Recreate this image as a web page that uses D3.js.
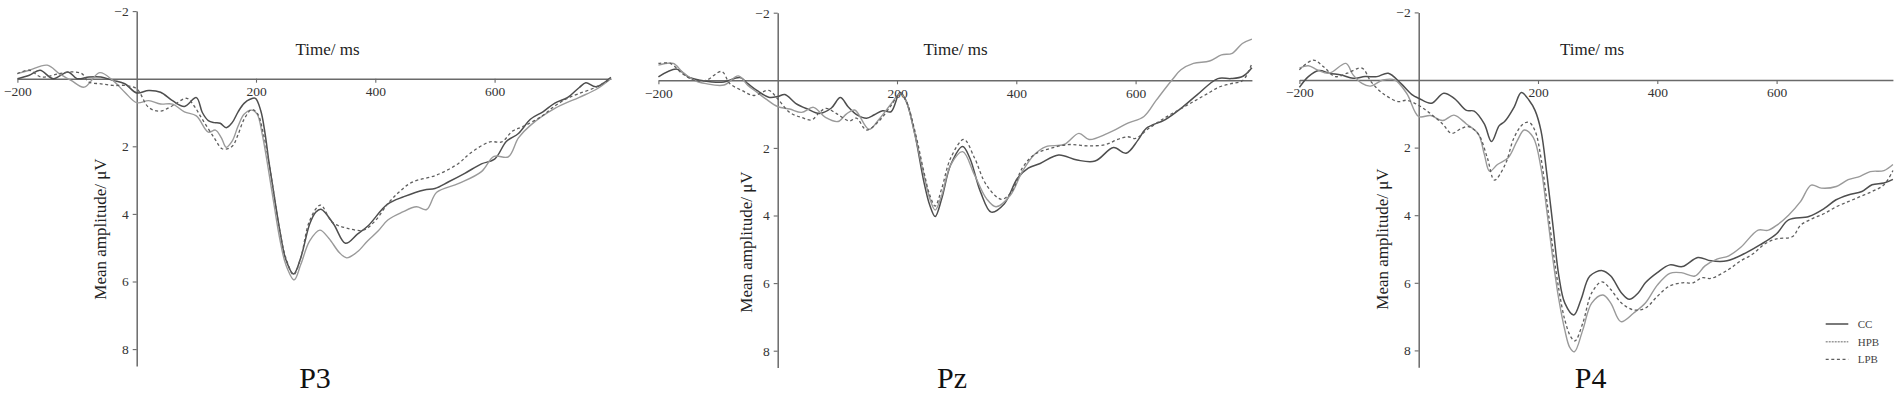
<!DOCTYPE html>
<html><head><meta charset="utf-8">
<script src="https://cdn.jsdelivr.net/npm/d3@7"></script>
<style>
html,body{margin:0;padding:0;background:#fff;}
svg{display:block;}
text{font-family:"Liberation Serif","Times New Roman",serif;}
</style></head>
<body><svg id="chart" width="1902" height="395"></svg>
<script>
// ---------- data (time in ms, amplitude in µV) ----------
const panelNames = ["P3", "Pz", "P4"];
const seriesNames = ["CC", "HPB", "LPB"];
const xTicks = [-200, 200, 400, 600];
const yTicks = [-2, 2, 4, 6, 8];
const xTitle = "Time/ ms";
const yTitle = "Mean amplitude/ μV";

const p3CC = [[-200,0],[-180,-0.1],[-162,-0.25],[-140,0],[-115,-0.2],[-100,0],[-80,-0.05],[-60,-0.05],[-40,0.05],[-20,0.15],[0,0.42],[20,0.35],[40,0.4],[60,0.65],[80,0.82],[100,0.56],[110,1.0],[120,1.24],[130,1.3],[140,1.32],[150,1.45],[160,1.3],[170,0.98],[180,0.73],[190,0.61],[199,0.58],[208,0.95],[215,1.6],[222,2.5],[230,3.4],[240,4.5],[250,5.35],[263,5.78],[275,5.3],[290,4.3],[300,3.95],[309,3.86],[330,4.3],[350,4.87],[370,4.6],[388,4.35],[420,3.72],[448,3.49],[482,3.29],[500,3.25],[523,3.05],[550,2.8],[578,2.52],[600,2.38],[620,1.85],[640,1.62],[660,1.2],[681,0.98],[701,0.72],[722,0.56],[742,0.26],[753,0.12],[770,0.24],[795,-0.04]];
const p3HPB = [[-200,-0.15],[-180,-0.25],[-150,-0.4],[-130,-0.15],[-110,0.05],[-88,0.25],[-62,-0.18],[-40,0.05],[-20,0.4],[0,0.71],[20,0.65],[40,0.75],[60,0.75],[80,0.98],[100,1.1],[120,1.58],[132,1.52],[142,1.75],[150,2.03],[160,1.85],[170,1.4],[180,1.05],[193,0.93],[202,1.05],[210,1.6],[220,2.6],[230,3.7],[240,4.75],[250,5.5],[264,5.95],[275,5.5],[290,4.8],[307,4.48],[322,4.72],[340,5.15],[352,5.3],[370,5.12],[387,4.8],[405,4.5],[421,4.18],[445,3.95],[469,3.79],[486,3.87],[503,3.36],[540,3.1],[578,2.75],[599,2.3],[623,2.31],[640,1.75],[660,1.38],[701,0.88],[742,0.55],[770,0.32],[795,0.0]];
const p3LPB = [[-200,-0.15],[-180,-0.25],[-160,-0.05],[-130,-0.15],[-110,-0.2],[-92,-0.15],[-80,0.1],[-60,0.15],[-40,0.2],[-20,0.2],[0,0.3],[20,0.85],[39,0.96],[60,0.8],[84,0.58],[96,0.8],[110,1.2],[130,1.75],[144,2.08],[160,2.0],[170,1.65],[180,1.2],[193,0.91],[203,1.05],[212,1.6],[221,2.4],[230,3.4],[240,4.5],[250,5.3],[263,5.8],[275,5.3],[290,4.2],[308,3.74],[328,4.25],[352,4.42],[380,4.48],[400,4.2],[420,3.72],[440,3.35],[462,3.06],[503,2.85],[540,2.5],[558,2.22],[592,1.87],[612,1.87],[630,1.55],[647,1.42],[680,1.1],[700,0.82],[720,0.6],[740,0.45],[770,0.25],[795,0.0]];

const pzCC = [[-200,-0.1],[-169,-0.33],[-150,-0.1],[-130,0.0],[-110,0.05],[-90,0.05],[-63,-0.08],[-50,0.1],[-35,0.3],[-15,0.5],[0,0.48],[12,0.42],[30,0.68],[50,0.85],[70,0.98],[90,0.82],[105,0.51],[118,0.78],[133,1.02],[149,1.12],[162,1.02],[176,0.9],[190,0.93],[205,0.36],[215,0.6],[230,1.6],[245,3.0],[255,3.7],[264,4.03],[275,3.5],[290,2.5],[310,1.96],[322,2.3],[340,3.3],[358,3.9],[380,3.65],[402,2.9],[420,2.6],[440,2.46],[471,2.21],[502,2.36],[532,2.39],[563,1.99],[584,2.16],[604,1.77],[618,1.42],[649,1.17],[676,0.83],[703,0.43],[738,-0.05],[760,-0.05],[780,-0.12],[795,-0.37]];
const pzHPB = [[-200,-0.45],[-175,-0.5],[-160,-0.25],[-140,0.0],[-120,0.1],[-90,0.14],[-66,-0.13],[-50,0.15],[-35,0.35],[-20,0.55],[0,0.78],[20,0.85],[40,0.95],[60,0.8],[80,1.1],[101,1.22],[115,1.0],[129,0.88],[153,1.45],[170,1.15],[190,0.7],[205,0.4],[215,0.6],[230,1.6],[245,2.8],[255,3.5],[264,3.84],[275,3.4],[290,2.5],[310,2.11],[330,2.8],[350,3.5],[366,3.74],[390,3.4],[410,2.7],[430,2.2],[450,1.96],[480,1.9],[505,1.57],[522,1.75],[553,1.57],[587,1.27],[614,1.07],[635,0.58],[662,-0.03],[676,-0.31],[697,-0.5],[724,-0.57],[744,-0.75],[762,-0.8],[779,-1.09],[795,-1.22]];
const pzLPB = [[-200,-0.5],[-180,-0.5],[-160,-0.2],[-140,0.0],[-120,0.0],[-94,-0.26],[-80,0.1],[-60,0.3],[-40,0.45],[-15,0.3],[0,0.55],[20,0.95],[40,1.1],[57,1.17],[70,0.95],[81,0.83],[100,1.0],[120,1.2],[132,1.12],[149,1.47],[170,1.2],[190,0.75],[205,0.4],[215,0.6],[230,1.5],[245,2.7],[255,3.4],[264,3.72],[275,3.2],[290,2.3],[312,1.75],[330,2.3],[350,3.1],[375,3.52],[392,3.3],[410,2.6],[430,2.2],[460,2.0],[490,1.9],[519,1.94],[550,1.9],[570,1.75],[587,1.67],[600,1.72],[620,1.45],[650,1.1],[680,0.8],[700,0.6],[720,0.4],[740,0.2],[760,0.1],[780,0.0],[795,-0.5]];

const p4CC = [[-200,0.22],[-185,-0.1],[-167,-0.28],[-150,-0.2],[-130,-0.15],[-110,-0.05],[-90,-0.1],[-70,-0.1],[-51,-0.2],[-30,0.1],[-10,0.45],[0,0.54],[21,0.69],[42,0.39],[60,0.55],[80,0.9],[93,0.92],[110,1.3],[122,1.82],[135,1.35],[144,1.23],[160,0.8],[172,0.37],[185,0.6],[195,0.9],[205,1.5],[215,2.8],[225,4.3],[235,5.8],[245,6.6],[260,6.95],[272,6.5],[287,5.8],[308,5.64],[322,5.8],[340,6.3],[353,6.49],[368,6.3],[380,6.0],[400,5.7],[421,5.47],[442,5.52],[468,5.25],[490,5.35],[517,5.35],[550,5.1],[572,4.88],[600,4.55],[620,4.14],[654,4.04],[680,3.8],[699,3.55],[720,3.4],[743,3.3],[760,3.1],[780,3.05],[795,2.94]];
const p4HPB = [[-200,-0.35],[-185,-0.42],[-170,-0.3],[-150,-0.2],[-122,-0.49],[-110,-0.15],[-95,0.1],[-81,0.18],[-60,0.0],[-40,0.0],[-20,0.4],[0,1.08],[20,1.05],[40,1.2],[59,1.04],[80,1.3],[100,1.6],[110,2.2],[119,2.7],[132,2.5],[150,2.3],[165,1.8],[177,1.48],[192,1.7],[205,2.6],[215,3.9],[225,5.3],[235,6.5],[245,7.4],[253,7.9],[261,8.04],[275,7.4],[290,6.6],[309,6.36],[322,6.6],[339,7.15],[360,6.9],[380,6.6],[400,6.07],[421,5.72],[440,5.7],[463,5.8],[480,5.5],[500,5.3],[520,5.2],[540,4.95],[569,4.44],[585,4.45],[600,4.3],[620,4.0],[640,3.6],[658,3.11],[675,3.2],[700,3.15],[720,2.95],[740,2.85],[757,2.71],[780,2.68],[795,2.5]];
const p4LPB = [[-200,-0.3],[-177,-0.59],[-160,-0.4],[-140,-0.1],[-120,-0.2],[-95,-0.35],[-80,0.05],[-60,0.4],[-34,0.64],[-20,0.6],[0,0.75],[20,1.0],[40,1.3],[55,1.58],[70,1.45],[83,1.38],[100,1.6],[115,2.3],[127,2.96],[145,2.5],[160,1.7],[175,1.3],[185,1.25],[195,1.5],[205,2.3],[215,3.6],[225,5.0],[235,6.2],[245,7.1],[255,7.6],[262,7.72],[275,7.2],[290,6.3],[307,5.97],[322,6.2],[340,6.6],[360,6.8],[380,6.75],[400,6.4],[420,6.1],[442,6.0],[460,6.0],[475,5.85],[490,5.87],[520,5.6],[540,5.35],[560,5.15],[580,4.85],[600,4.7],[627,4.63],[640,4.3],[660,4.1],[680,3.95],[700,3.75],[720,3.6],[740,3.45],[760,3.3],[780,3.1],[795,2.68]];

// ---------- layout ----------
const panels = [
  {name: panelNames[0], series: [p3CC, p3HPB, p3LPB], ax: 136.7, zy: 78.7, ylx: 100, yly: 229, tlx: 327.5, ttx: 315},
  {name: panelNames[1], series: [pzCC, pzHPB, pzLPB], ax: 777.7, zy: 80.3, ylx: 746.3, yly: 242, tlx: 955.6, ttx: 952},
  {name: panelNames[2], series: [p4CC, p4HPB, p4LPB], ax: 1418.7, zy: 80.0, ylx: 1381.6, yly: 239, tlx: 1592, ttx: 1590.6}
];
const pxPerMs = 0.5965, pxPerUv = 33.8;
const styles = [
  {stroke: "#4e4e4e", width: 1.5, dash: null},
  {stroke: "#9a9a9a", width: 1.4, dash: null},
  {stroke: "#5e5e5e", width: 1.3, dash: "3,2.6"}
];
const axisColor = "#6a6a6a";

const svg = d3.select("#chart");

panels.forEach(p => {
  const x = d3.scaleLinear().domain([-200, 795]).range([p.ax - 200 * pxPerMs, p.ax + 795 * pxPerMs]);
  const y = d3.scaleLinear().domain([-2, 8.5]).range([p.zy - 2 * pxPerUv, p.zy + 8.5 * pxPerUv]);
  const g = svg.append("g");

  const xAxis = d3.axisBottom(x).tickValues(xTicks).tickSize(4).tickSizeOuter(0).tickPadding(6).tickFormat(d3.format("d"));
  const gx = g.append("g").attr("transform", `translate(0,${y(0)})`).call(xAxis);
  gx.select(".domain").attr("stroke", axisColor).attr("stroke-width", 1.5);
  gx.selectAll(".tick line").attr("stroke", axisColor).attr("stroke-width", 1.1);
  gx.selectAll(".tick text").attr("fill", "#333").attr("font-size", 13.5).attr("font-family", "Liberation Serif, serif").attr("dy", "0.55em");

  const yAxis = d3.axisLeft(y).tickValues(yTicks).tickSize(4).tickSizeOuter(0).tickPadding(4).tickFormat(d3.format("d"));
  const gy = g.append("g").attr("transform", `translate(${x(0)},0)`).call(yAxis);
  gy.select(".domain").attr("stroke", axisColor).attr("stroke-width", 1.5);
  gy.selectAll(".tick line").attr("stroke", axisColor).attr("stroke-width", 1.1);
  gy.selectAll(".tick text").attr("fill", "#333").attr("font-size", 13.5).attr("font-family", "Liberation Serif, serif");

  const line = d3.line().x(d => x(d[0])).y(d => y(d[1])).curve(d3.curveCatmullRom.alpha(0.5));
  p.series.forEach((s, i) => {
    g.append("path").datum(s)
      .attr("fill", "none")
      .attr("stroke", styles[i].stroke)
      .attr("stroke-width", styles[i].width)
      .attr("stroke-dasharray", styles[i].dash)
      .attr("stroke-linejoin", "round")
      .attr("d", line);
  });

  g.append("text").attr("x", p.tlx).attr("y", 55).attr("text-anchor", "middle")
    .attr("font-size", 17).attr("fill", "#222").text(xTitle);
  g.append("text").attr("transform", `translate(${p.ylx + 6},${p.yly}) rotate(-90)`)
    .attr("text-anchor", "middle").attr("font-size", 17).attr("fill", "#222").text(yTitle);
  g.append("text").attr("x", p.ttx).attr("y", 388).attr("text-anchor", "middle")
    .attr("font-size", 30).attr("fill", "#111").text(p.name);
});

const legY = [324, 341.7, 359.3];
const leg = svg.append("g");
seriesNames.forEach((n, i) => {
  leg.append("line").attr("x1", 1825.7).attr("x2", 1848.3).attr("y1", legY[i]).attr("y2", legY[i])
    .attr("stroke", styles[i].stroke).attr("stroke-width", styles[i].width)
    .attr("stroke-dasharray", i === 1 ? "2,1" : styles[i].dash);
  leg.append("text").attr("x", 1857.7).attr("y", legY[i]).attr("dy", "0.35em")
    .attr("font-size", 11).attr("fill", "#444").text(n);
});
</script>
</body></html>
